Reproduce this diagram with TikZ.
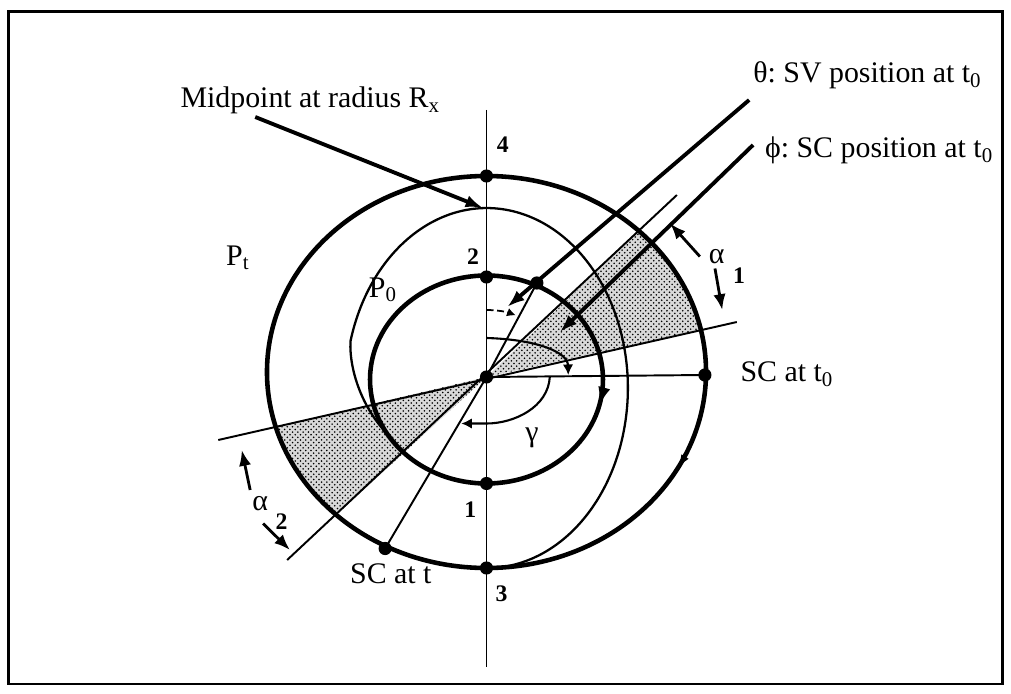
\documentclass[tikz,border=0pt]{standalone}
\usepackage{fontspec}
\setmainfont{Liberation Serif}
\usetikzlibrary{arrows.meta,patterns}
\frenchspacing

\tikzset{
  orbit/.style={line width=2.6pt},
  transfer/.style={line width=1.3pt},
  axis/.style={line width=1.1pt},
  pointer/.style={line width=2.2pt,-{Latex[length=10pt,width=7pt]}},
  dot/.style={circle,fill=black,inner sep=0pt,minimum size=7.5pt},
  lbl/.style={inner sep=0pt,font=\fontsize{17}{20}\selectfont},
  num/.style={inner sep=0pt,font=\fontsize{13.5}{15}\selectfont\bfseries},
  shade/.style={pattern=crosshatch dots}
}

\begin{document}
\begin{tikzpicture}[>=Latex, x=1.12cm, y=1cm]
  \useasboundingbox (-8.6875,-6.32) rectangle (9.366,7.54);
  \draw[line width=1.7pt] (-8.54,-6.14) rectangle (9.22,7.3);

  \coordinate (O) at (0,0);
  \coordinate (l1a) at (-4.79,-1.26);
  \coordinate (l1b) at (4.47,1.1);
  \coordinate (l2a) at (-3.56,-3.66);
  \coordinate (l2b) at (3.40,3.64);
  \begin{scope}
    \clip (0,0.1) circle (3.92);
    \fill[gray!30] (O) -- (l1b) -- (l2b) -- cycle;
    \fill[gray!30] (O) -- (l1a) -- (l2a) -- cycle;
    \fill[shade] (O) -- (l1b) -- (l2b) -- cycle;
    \fill[shade] (O) -- (l1a) -- (l2a) -- cycle;
  \end{scope}

  \draw[orbit] (0,0.1) circle (3.92);
  \draw[orbit] (0,-0.05) circle (2.08);
  \draw[transfer] (-1.76,-1.15) .. controls (-2.2,-0.65) and (-2.45,0.1) .. (-2.43,0.71)
    arc[start angle=165, end angle=-90, x radius=2.52, y radius=3.6];
  \draw[line width=1pt,-{Latex[length=7pt,width=5pt]}] (0,0.1) ++(-22:3.92)
    arc[start angle=-22, end angle=-29, radius=3.92];
  \draw[line width=1pt,-{Latex[length=10pt,width=7pt]}] (0,-0.05) ++(-5:2.08)
    arc[start angle=-5, end angle=-14, radius=2.08];

  \node[dot] (d4) at (0,4.02) {};
  \node[dot] (d2) at (0,2.0) {};
  \node[dot] (d1) at (0,-2.13) {};
  \node[dot] (d3) at (0,-3.82) {};
  \node[dot] (sv) at (0.9,1.88) {};
  \node[dot] (sc0) at (3.9,0.04) {};
  \node[dot] (sct) at (-1.81,-3.43) {};
  \node[dot] (o) at (O) {};

  \coordinate (top) at (0,5.34);
  \coordinate (bot) at (0,-5.8);
  \draw[axis] (top) -- (bot);
  \draw[axis] (o.center) -- (sc0.center);
  \draw[axis] (o.center) -- (sct.center);
  \draw[axis] (o.center) -- (sv.center);
  \draw[axis] (l1a) -- (l1b);
  \draw[axis] (l2a) -- (l2b);

  \draw[line width=1pt, dash pattern=on 4pt off 2pt, -{Latex[length=5pt,width=5pt]}]
    (0,1.34) arc[start angle=90, end angle=67, radius=1.34];
  \draw[line width=1.2pt, -{Latex[length=6pt,width=6pt]}]
    (0,0.78) .. controls (0.9,0.75) and (1.45,0.5) .. (1.46,0.04);
  \draw[line width=1.2pt, -{Latex[length=6pt,width=6pt]}]
    (1.13,0) .. controls (1.1,-0.6) and (0.5,-0.93) .. (0,-0.93) -- (-0.45,-0.93);

  \node[lbl, anchor=base west] (mid) at (-5.47,5.38) {Midpoint at radius R\textsubscript{x}};
  \node[lbl, anchor=base west] (thl) at (4.76,5.88) {θ: SV position at t\textsubscript{0}};
  \node[lbl, anchor=base west] (phl) at (4.97,4.38) {ϕ: SC position at t\textsubscript{0}};
  \node[lbl, anchor=base west] (sc0l) at (4.53,-0.09) {SC at t\textsubscript{0}};
  \node[lbl, anchor=base west] (sctl) at (-2.44,-4.13) {SC at t};
  \node[lbl] (ptl) at (-4.44,2.38) {P\textsubscript{t}};
  \node[lbl] (p0l) at (-1.85,1.74) {P\textsubscript{0}};
  \node[lbl] (gl) at (0.81,-1.22) {γ};
  \node[lbl] (a1) at (4.11,2.41) {α};
  \node[num] (a1s) at (4.51,2.02) {1};
  \node[lbl] (a2) at (-4.04,-2.53) {α};
  \node[num] (a2s) at (-3.66,-2.89) {2};
  \node[num] (n4) at (0.29,4.64) {4};
  \node[num] (n2) at (-0.24,2.4) {2};
  \node[num] (n1) at (-0.29,-2.66) {1};
  \node[num] (n3) at (0.27,-4.33) {3};

  \coordinate (mpst) at (-4.13,5.2);
  \coordinate (mptip) at (-0.06,3.38);
  \draw[pointer] (mpst) -- (mptip);
  \coordinate (thst) at (4.69,5.54);
  \coordinate (thtip) at (0.37,1.4);
  \draw[pointer] (thst) -- (thtip);
  \coordinate (phst) at (4.76,4.64);
  \coordinate (phtip) at (1.31,0.9);
  \draw[pointer] (phst) -- (phtip);

  \coordinate (a1ua) at (3.81,2.41);
  \coordinate (a1ub) at (3.28,3.07);
  \coordinate (a1la) at (4.08,2.17);
  \coordinate (a1lb) at (4.21,1.34);
  \draw[line width=1.6pt, -{Latex[length=9pt,width=7pt]}] (a1ua) -- (a1ub);
  \draw[line width=1.6pt, -{Latex[length=9pt,width=7pt]}] (a1la) -- (a1lb);
  \coordinate (a2ua) at (-4.22,-2.26);
  \coordinate (a2ub) at (-4.37,-1.46);
  \coordinate (a2la) at (-3.99,-2.93);
  \coordinate (a2lb) at (-3.51,-3.46);
  \draw[line width=1.6pt, -{Latex[length=9pt,width=7pt]}] (a2ua) -- (a2ub);
  \draw[line width=1.6pt, -{Latex[length=9pt,width=7pt]}] (a2la) -- (a2lb);
\end{tikzpicture}
\end{document}
